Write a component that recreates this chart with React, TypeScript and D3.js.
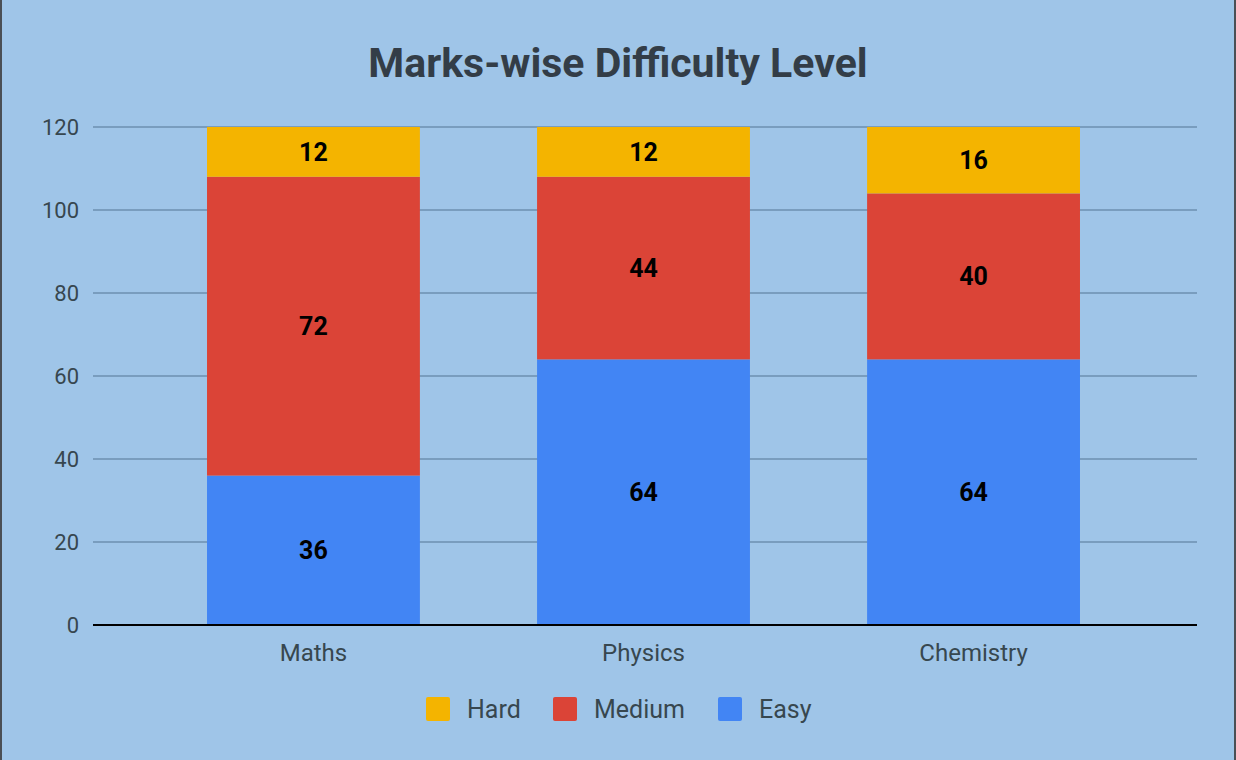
import React, { useEffect, useRef } from 'react';
import * as d3 from 'd3';

// Chart data
const SUBJECTS = ['Maths', 'Physics', 'Chemistry'];
const SERIES = ['Easy', 'Medium', 'Hard'];
const EASY = [36, 64, 64];
const MEDIUM = [72, 44, 40];
const HARD = [12, 12, 16];
const Y_TICKS = [0, 20, 40, 60, 80, 100, 120];
const LEGEND_ORDER = ['Hard', 'Medium', 'Easy'];

const COLORS: Record<string, string> = {
  Easy: '#4285f4',
  Medium: '#db4437',
  Hard: '#f4b400',
};

const W = 1236;
const H = 760;

export default function App() {
  const svgRef = useRef<SVGSVGElement>(null);

  useEffect(() => {
    document.body.style.margin = '0';
    if (!svgRef.current) return;
    const svg = d3.select(svgRef.current);
    svg.selectAll('*').remove();

    const font = 'Roboto, "Noto Sans", sans-serif';
    const plot = { left: 93, right: 1197, top: 127, bottom: 625 };

    // background + side borders
    svg.append('rect').attr('width', W).attr('height', H).attr('fill', '#9fc5e8');
    svg.append('rect').attr('x', 0).attr('y', 0).attr('width', 2).attr('height', H).attr('fill', '#4a4f55');
    svg.append('rect').attr('x', W - 2).attr('y', 0).attr('width', 2).attr('height', H).attr('fill', '#4a4f55');

    const rows = SUBJECTS.map((s, i) => ({ subject: s, Easy: EASY[i], Medium: MEDIUM[i], Hard: HARD[i] }));
    const stacked = d3.stack<any>().keys(SERIES)(rows);

    // band range nudged so bars line up with the source rendering
    const x = d3.scaleBand<string>()
      .domain(SUBJECTS)
      .range([plot.left - 1.5, plot.right - 1.5])
      .paddingInner(0.355)
      .paddingOuter(0.35);

    const y = d3.scaleLinear().domain([0, 120]).range([plot.bottom, plot.top]);

    // Title
    svg.append('text')
      .attr('x', 618)
      .attr('y', 77)
      .attr('text-anchor', 'middle')
      .attr('fill', '#333d47')
      .attr('font-family', font)
      .attr('font-size', '41px')
      .attr('font-weight', 'bold')
      .text('Marks-wise Difficulty Level');

    // Grid lines
    svg.append('g')
      .selectAll('line')
      .data(Y_TICKS.filter(t => t !== 0))
      .enter()
      .append('line')
      .attr('x1', plot.left)
      .attr('x2', plot.right)
      .attr('y1', d => y(d))
      .attr('y2', d => y(d))
      .attr('stroke', '#6d8fb0')
      .attr('stroke-width', 1.5);

    // Y tick labels
    svg.append('g')
      .selectAll('text')
      .data(Y_TICKS)
      .enter()
      .append('text')
      .attr('x', 79)
      .attr('y', d => y(d) + 7.5)
      .attr('text-anchor', 'end')
      .attr('fill', '#37474f')
      .attr('font-family', font)
      .attr('font-size', '22px')
      .text(d => d);

    // Bars
    stacked.forEach(layer => {
      const key = layer.key;
      svg.append('g')
        .selectAll('rect')
        .data(layer)
        .enter()
        .append('rect')
        .attr('x', d => x(d.data.subject)!)
        .attr('width', x.bandwidth())
        .attr('y', d => y(d[1]))
        .attr('height', d => y(d[0]) - y(d[1]))
        .attr('fill', COLORS[key]);

      svg.append('g')
        .selectAll('text')
        .data(layer)
        .enter()
        .append('text')
        .attr('x', d => x(d.data.subject)! + x.bandwidth() / 2)
        .attr('y', d => (y(d[0]) + y(d[1])) / 2 + 9)
        .attr('text-anchor', 'middle')
        .attr('fill', '#000')
        .attr('font-family', font)
        .attr('font-size', '25px')
        .attr('font-weight', 'bold')
        .text(d => d.data[key]);
    });

    // Baseline
    svg.append('line')
      .attr('x1', plot.left)
      .attr('x2', plot.right)
      .attr('y1', y(0))
      .attr('y2', y(0))
      .attr('stroke', '#000')
      .attr('stroke-width', 2);

    // X labels
    svg.append('g')
      .selectAll('text')
      .data(SUBJECTS)
      .enter()
      .append('text')
      .attr('x', d => x(d)! + x.bandwidth() / 2)
      .attr('y', 661)
      .attr('text-anchor', 'middle')
      .attr('fill', '#37474f')
      .attr('font-family', font)
      .attr('font-size', '24px')
      .text(d => d);

    // Legend
    const legendX = [426, 553, 718];
    const legend = svg.append('g');
    LEGEND_ORDER.forEach((k, i) => {
      const item = legend.append('g').attr('transform', `translate(${legendX[i]},697)`);
      item.append('rect')
        .attr('width', 24)
        .attr('height', 24)
        .attr('rx', 2)
        .attr('fill', COLORS[k]);
      item.append('text')
        .attr('x', 41)
        .attr('y', 21)
        .attr('fill', '#37474f')
        .attr('font-family', font)
        .attr('font-size', '25px')
        .text(k);
    });
  }, []);

  return <svg ref={svgRef} width={W} height={H} style={{ display: 'block' }} />;
}
